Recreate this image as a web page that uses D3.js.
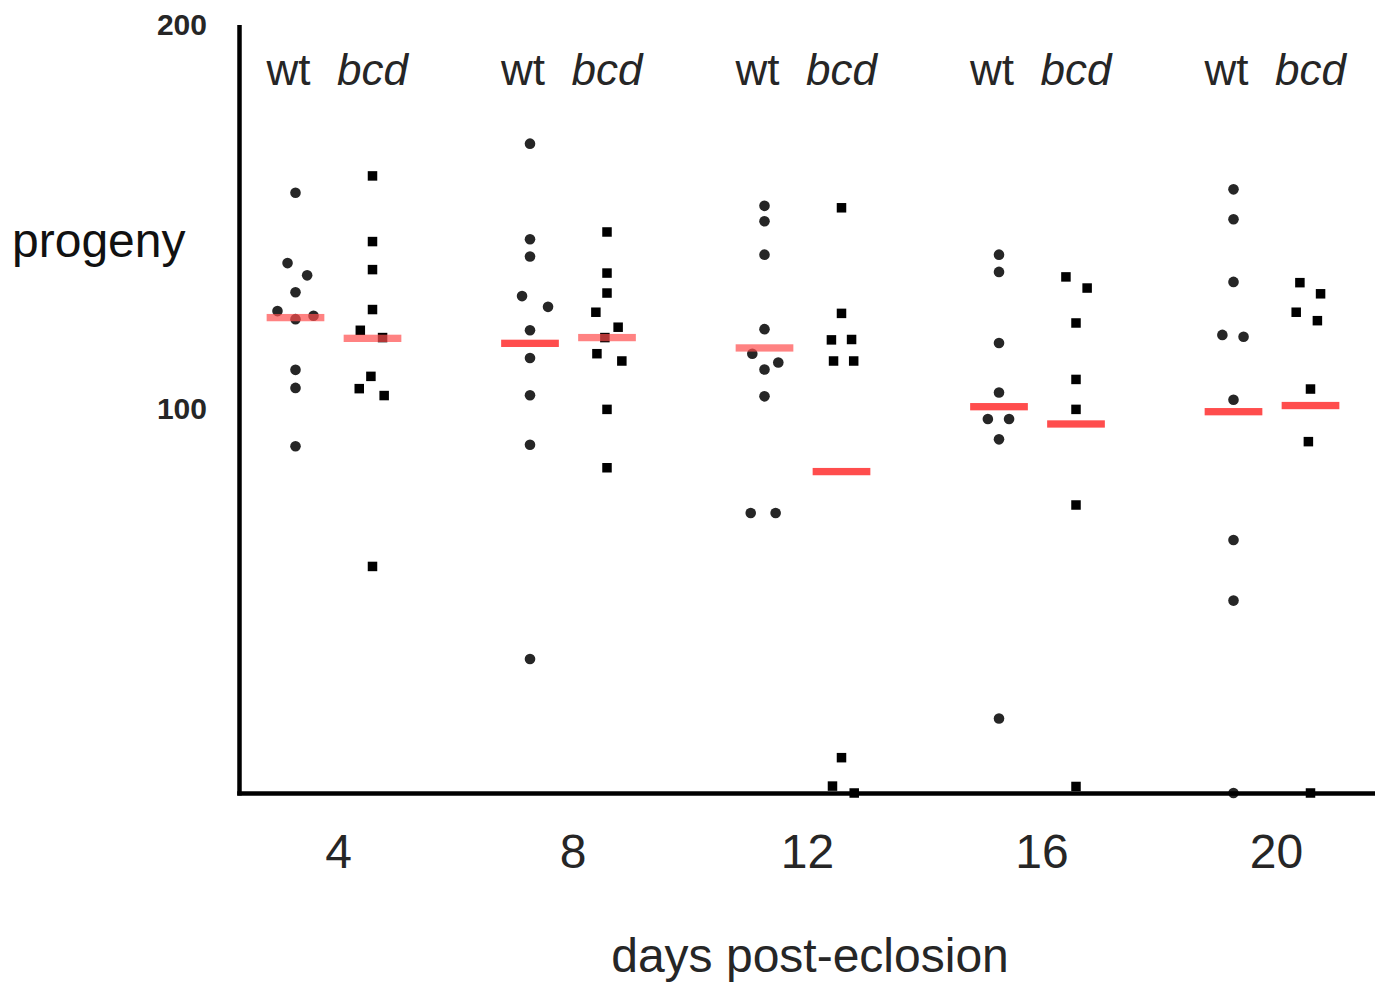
<!DOCTYPE html>
<html>
<head>
<meta charset="utf-8">
<script src="https://cdn.jsdelivr.net/npm/d3@7"></script>
<style>
  body { margin: 0; background: #fff; }
  svg { display: block; font-family: "Liberation Sans", Arial, Helvetica, sans-serif; }
</style>
</head>
<body>
<svg></svg>
<script>
const width = 1388, height = 982;
const margin = { left: 239.5, right: 13, top: 25, bottom: 189 };

// data
const days = [4, 8, 12, 16, 20];
const genotypes = ["wt", "bcd"];
const yTicks = [100, 200];

const wtValues = [
  [156.3, 138.0, 134.8, 130.4, 125.5, 124.3, 123.4, 110.2, 105.5, 90.3],
  [169.1, 144.2, 139.7, 129.4, 126.6, 120.5, 113.3, 103.6, 90.7, 34.9],
  [152.9, 148.9, 140.2, 120.8, 114.4, 112.1, 110.3, 103.3, 72.9, 72.9],
  [140.2, 135.7, 117.2, 104.3, 97.4, 97.4, 92.1, 19.4],
  [157.2, 149.4, 133.1, 119.3, 118.8, 102.4, 65.9, 50.1, 0]
];
// horizontal jitter, in dot widths
const wtJitter = [
  [0, -0.75, 1.1, 0, -1.7, 1.7, 0, 0, 0, 0],
  [0, 0, 0, -0.75, 1.7, 0, 0, 0, 0, 0],
  [0, 0, 0, 0, -1.15, 1.3, 0, 0, -1.3, 1.05],
  [0, 0, 0, 0, -1.05, 0.95, 0, 0],
  [0, 0, 0, -1.05, 0.95, 0, 0, 0, 0]
];

const bcdValues = [
  [160.7, 143.6, 136.3, 125.9, 120.5, 118.6, 108.5, 105.3, 103.5, 59.0],
  [146.1, 135.4, 130.2, 125.2, 121.3, 118.6, 114.4, 112.5, 99.9, 84.7],
  [152.4, 124.9, 118.0, 118.1, 112.5, 112.5, 9.2, 1.8, 0],
  [134.4, 131.5, 122.4, 107.7, 99.9, 75.0, 1.7],
  [132.9, 130.0, 125.2, 123.0, 105.2, 91.5, 0]
];
const bcdJitter = [
  [0, 0, 0, 0, -1.15, 0.95, -0.15, -1.25, 1.1, 0],
  [0, 0, 0, -1.05, 1.05, -0.2, -0.95, 1.4, 0, 0],
  [0, 0, -0.95, 0.95, -0.75, 1.15, 0, -0.85, 1.2],
  [-0.95, 1.05, 0, 0, 0, 0, 0],
  [-1.0, 0.95, -1.35, 0.65, 0, -0.2, 0]
];

const wtMedian = [123.8, 117.1, 115.9, 100.6, 99.3];
const bcdMedian = [118.4, 118.6, 83.7, 96.1, 100.9];

// which median bars are drawn faded
const wtFaded = [true, false, true, false, false];
const bcdFaded = [true, true, false, false, false];

const svg = d3.select("svg")
  .attr("width", width)
  .attr("height", height)
  .attr("viewBox", [0, 0, width, height]);

svg.append("rect").attr("width", width).attr("height", height).attr("fill", "#fff");

const x_scale = d3.scaleLinear().domain([4, 20]).range([334, 1272]);
const g_scale = d3.scalePoint().domain(genotypes).range([-38.5, 38.5]);
const y_scale = d3.scaleLinear().domain([0, 200]).range([height - margin.bottom, margin.top]);
// y(0) = 793

const dotStep = 10.6;
const barWidth = 57.7, barHeight = 7.3;
const red = "#ff4d4d";
const textColor = "#262626";

// flatten into point records
const points = [];
days.forEach((day, i) => {
  wtValues[i].forEach((v, j) => points.push({ day, g: "wt", v, jit: wtJitter[i][j] }));
  bcdValues[i].forEach((v, j) => points.push({ day, g: "bcd", v, jit: bcdJitter[i][j] }));
});
const medians = [];
days.forEach((day, i) => {
  medians.push({ day, g: "wt", v: wtMedian[i], faded: wtFaded[i] });
  medians.push({ day, g: "bcd", v: bcdMedian[i], faded: bcdFaded[i] });
});

const px = (d) => x_scale(d.day) + g_scale(d.g) + d.jit * dotStep;

// wt dots
svg.append("g")
  .selectAll("circle")
  .data(points.filter((d) => d.g === "wt"))
  .join("circle")
  .attr("cx", px)
  .attr("cy", (d) => y_scale(d.v))
  .attr("r", 5.3)
  .attr("fill", "#262626");

// bcd squares
const sq = 9.5;
svg.append("g")
  .selectAll("rect")
  .data(points.filter((d) => d.g === "bcd"))
  .join("rect")
  .attr("x", (d) => px(d) - sq / 2)
  .attr("y", (d) => y_scale(d.v) - sq / 2)
  .attr("width", sq)
  .attr("height", sq)
  .attr("fill", "#000");

// median bars
svg.append("g")
  .selectAll("rect")
  .data(medians)
  .join("rect")
  .attr("x", (d) => x_scale(d.day) + g_scale(d.g) - barWidth / 2)
  .attr("y", (d) => y_scale(d.v) - barHeight / 2)
  .attr("width", barWidth)
  .attr("height", barHeight)
  .attr("fill", red)
  .attr("fill-opacity", (d) => (d.faded ? 0.7 : 1));

// y axis
const y_axis = d3.axisLeft(y_scale)
  .tickValues(yTicks)
  .tickSize(0)
  .tickSizeOuter(0)
  .tickPadding(32.5);

const yg = svg.append("g")
  .attr("transform", `translate(${margin.left},0)`)
  .call(y_axis);
yg.select(".domain").attr("stroke", "#000").attr("stroke-width", 4.5)
  .attr("d", `M0,${margin.top}V${y_scale(0) + 2.5}`);
yg.selectAll("text")
  .attr("fill", textColor)
  .style("font-size", "30px")
  .style("font-weight", "bold")
  .style("font-family", "'Liberation Sans', Arial, sans-serif");

// x axis
const x_axis = d3.axisBottom(x_scale)
  .tickValues(days)
  .tickSize(0)
  .tickSizeOuter(0)
  .tickPadding(40);

const xg = svg.append("g")
  .attr("transform", `translate(0,${y_scale(0) + 0.5})`)
  .call(x_axis);
xg.select(".domain").remove();
xg.selectAll("text")
  .attr("dx", 4)
  .attr("fill", textColor)
  .style("font-size", "48px")
  .style("font-family", "'Liberation Sans', Arial, sans-serif");

svg.append("line")
  .attr("x1", margin.left - 2.25)
  .attr("x2", width - margin.right)
  .attr("y1", y_scale(0) + 0.5)
  .attr("y2", y_scale(0) + 0.5)
  .attr("stroke", "#000")
  .attr("stroke-width", 4.5);

// group labels on top
const headers = [];
days.forEach((day) => genotypes.forEach((g) => headers.push({ day, g })));
svg.append("g")
  .selectAll("text")
  .data(headers)
  .join("text")
  .attr("x", (d) => x_scale(d.day) + g_scale(d.g) + (d.g === "wt" ? -7 : 0))
  .attr("y", 85)
  .attr("text-anchor", "middle")
  .attr("fill", textColor)
  .style("font-size", "44px")
  .style("font-style", (d) => (d.g === "bcd" ? "italic" : "normal"))
  .text((d) => d.g);

// axis titles
svg.append("text")
  .attr("x", 12)
  .attr("y", 257)
  .attr("fill", "#111")
  .style("font-size", "48px")
  .text("progeny");

svg.append("text")
  .attr("x", 810)
  .attr("y", 972)
  .attr("text-anchor", "middle")
  .attr("fill", textColor)
  .style("font-size", "48px")
  .text("days post-eclosion");
</script>
</body>
</html>
